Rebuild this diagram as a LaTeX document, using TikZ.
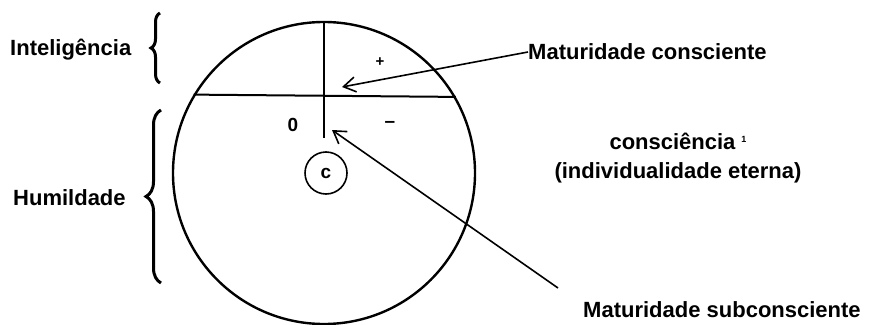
\documentclass[tikz,border=0pt]{standalone}
\usepackage{fontspec}
\setmainfont{Liberation Sans}
\usetikzlibrary{arrows.meta,decorations.pathreplacing}

\begin{document}
\begin{tikzpicture}[x=1pt,y=-1pt,
  lbl/.style={font=\fontsize{22}{29}\selectfont\bfseries,inner sep=0pt},
  sym/.style={font=\fontsize{19}{22}\selectfont\bfseries,inner sep=0pt},
  ring/.style={circle,draw,line width=2.4pt,inner sep=0pt},
  rule/.style={line width=2pt},
  arr/.style={-{Straight Barb[length=12pt,width=15pt]},line width=1.6pt},
  curly/.style={decorate,decoration={brace,amplitude=#1},line width=3pt}
]
\useasboundingbox (0,0) rectangle (869,324);
% the circle and its divisions
\node[ring,minimum size=302pt] (soul) at (324,173) {};
\draw[rule] (soul.149.34) -- (soul.30.66);
\coordinate (axisend) at (324,138);
\draw[rule] (soul.north) -- (axisend);
\node[ring,sym,line width=1.6pt,minimum size=42pt] (core) at (326,173) {c};
\node[sym] (zero) at (293,125) {0};
\node[sym] (minus) at (390,124) {--};
\node[sym,font=\fontsize{15}{18}\selectfont\bfseries] (plus) at (380,62) {+};

% left side labels with braces
\node[lbl,anchor=west] (intel) at (10,50) {Inteligência};
\node[lbl,anchor=west] (humil) at (13,198) {Humildade};
\coordinate (ibot) at (160,83); \coordinate (itop) at (160,13);
\draw[curly=9pt] (ibot) -- (itop);
\coordinate (hbot) at (161,283); \coordinate (htop) at (161,110);
\draw[curly=15pt] (hbot) -- (htop);

% right side labels and arrows
\node[lbl,anchor=west] (mcons) at (528,52) {Maturidade consciente};
\node[lbl,align=center] (consc) at (678,158)
  {consciência\hspace{6pt}\raisebox{7pt}{\fontsize{9}{9}\selectfont 1}\\(individualidade eterna)};
\node[lbl,anchor=west] (msub) at (583,310) {Maturidade subconsciente};
\coordinate (tipA) at (342,87);
\draw[arr] (mcons.west) -- (tipA);
\coordinate (tailB) at (558,288); \coordinate (tipB) at (332,130);
\draw[arr] (tailB) -- (tipB);
\end{tikzpicture}
\end{document}
